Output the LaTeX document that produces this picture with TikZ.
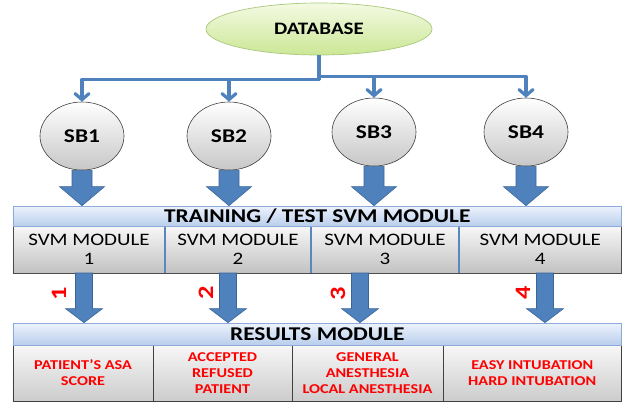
\documentclass[tikz,border=0pt]{standalone}
\usepackage{fontspec}
\setmainfont{Carlito}[FakeStretch=1.2]
\usetikzlibrary{arrows.meta,shapes.geometric,calc}
\definecolor{obl}{HTML}{4F81BD}
\definecolor{obldark}{HTML}{3A6699}
\definecolor{dbtop}{HTML}{F4FAE3}
\definecolor{dbbot}{HTML}{CBE796}
\definecolor{dbborder}{HTML}{A9C87C}
\definecolor{bartop}{HTML}{EDF3FC}
\definecolor{barbot}{HTML}{B9CEEC}
\definecolor{barborder}{HTML}{8EAADB}
\definecolor{divblue}{HTML}{5B86C0}
\newcommand\blockarrow[5]{%
  \draw[blk] let \p1=(#1), \p2=(#2) in
    (\x1-#3,\y1) -- (\x1+#3,\y1) -- (\x1+#3,\y2+#5) -- (\x1+#4,\y2+#5)
    -- (\x1,\y2) -- (\x1-#4,\y2+#5) -- (\x1-#3,\y2+#5) -- cycle;}
\begin{document}
\begin{tikzpicture}[x=1bp,y=-1bp,
  dbnode/.style={ellipse, draw=dbborder, line width=0.7bp, top color=dbtop, bottom color=dbbot,
    minimum width=226bp, minimum height=52bp, inner sep=0pt,
    font=\fontsize{17.5bp}{20bp}\selectfont\bfseries},
  sbnode/.style={ellipse, draw=black!75, line width=0.6bp, top color=white, bottom color=black!22,
    minimum width=84bp, minimum height=68bp, inner sep=0pt,
    font=\fontsize{19.5bp}{22bp}\selectfont\bfseries},
  barnode/.style={rectangle, draw=barborder, line width=0.7bp, top color=bartop, bottom color=barbot,
    inner sep=0pt, font=\fontsize{19.5bp}{20bp}\selectfont\bfseries},
  svmnode/.style={rectangle, draw=black!70, line width=0.6bp, top color=black!3, bottom color=black!24,
    minimum height=47bp, inner sep=0pt, align=center,
    font=\fontsize{17.5bp}{19.5bp}\selectfont},
  resnode/.style={rectangle, draw=black!75, line width=0.6bp, top color=black!3, bottom color=black!20,
    minimum height=56bp, inner sep=0pt, align=center, text=red,
    font=\fontsize{13.5bp}{16bp}\selectfont\bfseries},
  conn/.style={draw=obl, line width=3.2bp, line join=round,
    -{Straight Barb[length=6bp,width=14bp,line cap=round]}},
  blk/.style={fill=obl, draw=obldark, line width=0.6bp, line join=miter},
  num/.style={text=red, rotate=90, inner sep=0pt, font=\fontsize{22bp}{22bp}\selectfont\bfseries},
  divider/.style={draw=divblue, line width=2bp}
]
\useasboundingbox (0,0) rectangle (623,401);

% database and sub-bases
\node[dbnode] (db) at (319,29) {DATABASE};
\node[sbnode] (sb1) at (82,136) {SB1};
\node[sbnode] (sb2) at (229,136) {SB2};
\node[sbnode] (sb3) at (374,132) {SB3};
\node[sbnode] (sb4) at (526,132) {SB4};

\draw[conn] (db.south) -- ++(0,24) -| (sb1.north);
\draw[conn] (db.south) -- ++(0,24) -| (sb2.north);
\draw[conn] (db.south) -- ++(0,21) -| (sb3.north);
\draw[conn] (db.south) -- ++(0,21) -| (sb4.north);

% SVM modules
\node[svmnode, minimum width=152bp] (svm1) at (89,249.5) {SVM MODULE\\1};
\node[svmnode, minimum width=146bp] (svm2) at (238,249.5) {SVM MODULE\\2};
\node[svmnode, minimum width=148bp] (svm3) at (385,249.5) {SVM MODULE\\3};
\node[svmnode, minimum width=162.5bp] (svm4) at (540.25,249.5) {SVM MODULE\\4};
\draw[divider] (svm1.north east) -- (svm1.south east);
\draw[divider] (svm2.north east) -- (svm2.south east);
\draw[divider] (svm3.north east) -- (svm3.south east);

\node[barnode, minimum width=608.5bp, minimum height=20bp] (train) at (317.25,216) {TRAINING / TEST SVM MODULE};

% result boxes
\node[resnode, minimum width=140bp] (r1) at (83,373) {PATIENT’S ASA\\SCORE};
\node[resnode, minimum width=139bp] (r2) at (222.5,373) {ACCEPTED\\REFUSED\\PATIENT};
\node[resnode, minimum width=151bp] (r3) at (367.5,373) {GENERAL\\ANESTHESIA\\LOCAL ANESTHESIA};
\node[resnode, minimum width=178.5bp] (r4) at (532.25,373) {EASY INTUBATION\\HARD INTUBATION};

\node[barnode, minimum width=608.5bp, minimum height=22bp] (res) at (317.25,334) {RESULTS MODULE};

% block arrows: sub-bases to training module
\blockarrow{sb1.south}{sb1.south |- train.north}{10bp}{22.5bp}{19bp}
\blockarrow{sb2.south}{sb2.south |- train.north}{10bp}{22.5bp}{19bp}
\blockarrow{sb3.south}{sb3.south |- train.north}{10bp}{22.5bp}{19bp}
\blockarrow{sb4.south}{sb4.south |- train.north}{10bp}{22.5bp}{19bp}

% block arrows: SVM modules to results module
\coordinate (o1) at (84,273);
\coordinate (o2) at (228,273);
\coordinate (o3) at (360,273);
\coordinate (o4) at (545,273);
\blockarrow{o1}{o1 |- res.north}{8.5bp}{18.5bp}{14bp}
\blockarrow{o2}{o2 |- res.north}{8.5bp}{18.5bp}{14bp}
\blockarrow{o3}{o3 |- res.north}{8.5bp}{18.5bp}{14bp}
\blockarrow{o4}{o4 |- res.north}{8.5bp}{18.5bp}{14bp}

% numbers
\node[num] (n1) at (59,294) {1};
\node[num] (n2) at (206,293) {2};
\node[num] (n3) at (338,294) {3};
\node[num] (n4) at (523,293) {4};
\end{tikzpicture}
\end{document}
